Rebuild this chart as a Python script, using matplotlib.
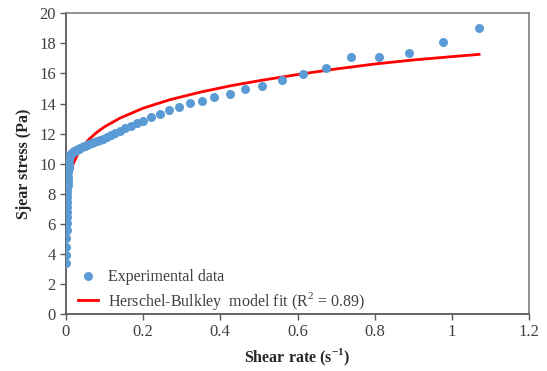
import matplotlib.pyplot as plt

# experimental flow curve (shear rate in 1/s, shear stress in Pa)
shear_rate = [0.0015, 0.0017, 0.0019, 0.0020, 0.0022, 0.0024, 0.0027, 0.0029, 0.0032, 0.0035,
              0.0039, 0.0042, 0.0046, 0.0051, 0.0056, 0.0061, 0.0067, 0.0073, 0.0080, 0.0088,
              0.0096, 0.0105, 0.0116, 0.0127, 0.0139, 0.0152, 0.0167, 0.0183, 0.0201, 0.0220,
              0.0242, 0.0265, 0.0290, 0.0319, 0.0350, 0.0383, 0.0420, 0.0461, 0.0506, 0.0555,
              0.061, 0.067, 0.073, 0.081, 0.088, 0.097, 0.106, 0.117, 0.128, 0.140,
              0.154, 0.168, 0.184, 0.201, 0.221, 0.244, 0.267, 0.293, 0.321, 0.352,
              0.385, 0.424, 0.464, 0.508, 0.559, 0.614, 0.673, 0.739, 0.811, 0.889,
              0.976, 1.070]
shear_stress = [3.39, 3.94, 4.49, 5.09, 5.60, 6.04, 6.44, 6.82, 7.15, 7.48,
                7.77, 8.04, 8.30, 8.59, 8.87, 9.14, 9.43, 9.70, 9.99, 10.25,
                10.48, 10.53, 10.58, 10.62, 10.66, 10.70, 10.73, 10.76, 10.80, 10.83,
                10.86, 10.90, 10.93, 10.97, 11.00, 11.05, 11.10, 11.15, 11.20, 11.26,
                11.32, 11.38, 11.45, 11.52, 11.60, 11.68, 11.80, 11.91, 12.07, 12.20,
                12.36, 12.51, 12.69, 12.84, 13.09, 13.29, 13.55, 13.79, 14.06, 14.17,
                14.46, 14.66, 14.97, 15.17, 15.59, 15.99, 16.37, 17.08, 17.08, 17.38,
                18.07, 19.00]

# Herschel-Bulkley fitted curve
fit_rate = [0.005, 0.008, 0.011, 0.015, 0.02, 0.03, 0.04, 0.06, 0.08, 0.1,
            0.14, 0.2, 0.27, 0.35, 0.43, 0.51, 0.6, 0.7, 0.8, 0.9, 1.0, 1.07]
fit_stress = [8.37, 8.90, 9.27, 9.66, 10.03, 10.59, 11.00, 11.62, 12.08, 12.45,
              13.03, 13.69, 14.26, 14.77, 15.20, 15.56, 15.93, 16.30, 16.63, 16.90, 17.12, 17.27]

plt.rcParams['font.family'] = ['Liberation Serif', 'DejaVu Serif']
plt.rcParams['mathtext.fontset'] = 'custom'
plt.rcParams['mathtext.rm'] = 'Liberation Serif'
plt.rcParams['mathtext.bf'] = 'Liberation Serif:bold'

fig = plt.figure(figsize=(5.47, 3.71), dpi=100)
ax = fig.add_axes([0.1201, 0.1528, 0.8476, 0.8114])

ax.plot(shear_rate, shear_stress, 'o', color='#5b9bd5', markersize=6.5,
        markeredgewidth=0, label='Experimental data', zorder=3)
ax.plot(fit_rate, fit_stress, '-', color='#ff0000', lw=2,
        label='Herschel-Bulkley  model fit (R$^\\mathregular{2}$ = 0.89)', zorder=2)

ax.set_xlim(0, 1.2)
ax.set_ylim(0, 20)
ax.set_xticks([0, 0.2, 0.4, 0.6, 0.8, 1, 1.2])
ax.set_xticklabels(['0', '0.2', '0.4', '0.6', '0.8', '1', '1.2'])
ax.set_yticks(range(0, 21, 2))

for side in ['left', 'bottom']:
    ax.spines[side].set_color('#595959')
    ax.spines[side].set_linewidth(1.3)
for side in ['top', 'right']:
    ax.spines[side].set_color('#7f7f7f')
    ax.spines[side].set_linewidth(1.2)

ax.tick_params(direction='out', length=4, width=1, color='#595959',
               labelsize=12, labelcolor='#404040', pad=3)

ax.set_xlabel('Shear rate (s$^\\mathbf{-1}$)', fontsize=11.5, fontweight='bold',
              labelpad=5, color='#262626')
ax.set_ylabel('Sjear stress (Pa)', fontsize=11.5, fontweight='bold', labelpad=5,
              color='#262626')

ax.legend(loc='lower left', bbox_to_anchor=(0.0265, 0.008), frameon=False, fontsize=11.5,
          handlelength=1.25, handletextpad=0.6, labelspacing=0.3,
          borderpad=0, borderaxespad=0, labelcolor='#404040')

fig.savefig('out.png', dpi=100)
